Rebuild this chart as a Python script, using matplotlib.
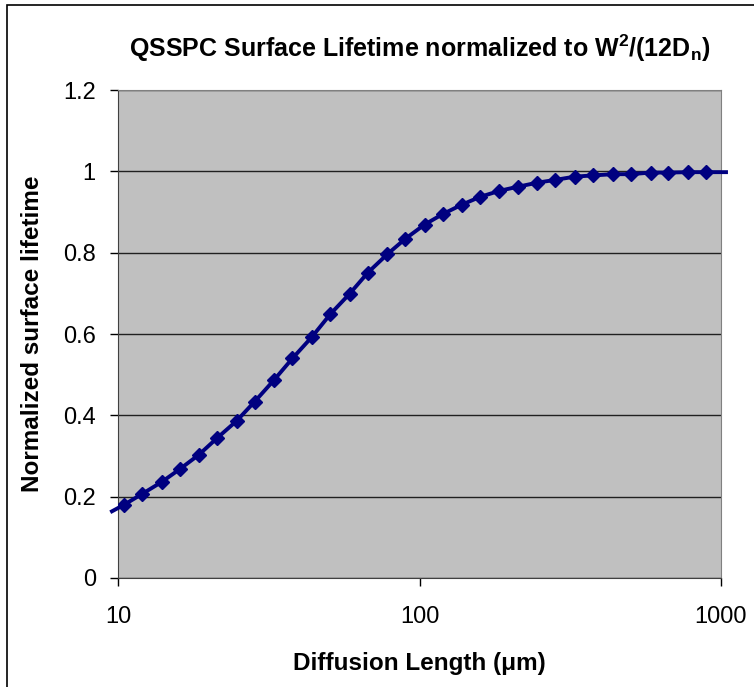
import numpy as np
import matplotlib
matplotlib.use("Agg")
import matplotlib.pyplot as plt
from matplotlib.patches import Rectangle

plt.rcParams["font.family"] = ["Liberation Sans", "DejaVu Sans"]
plt.rcParams["mathtext.fontset"] = "custom"
plt.rcParams["mathtext.rm"] = "Liberation Sans"
plt.rcParams["mathtext.bf"] = "Liberation Sans:bold"

# Diffusion length (um) and normalized surface lifetime
diff_length = [10.47, 12.04, 13.95, 16.05, 18.54, 21.38, 24.72, 28.42, 32.85, 37.89,
               44.00, 50.63, 58.65, 67.43, 78.17, 89.67, 103.9, 119.5, 138.2, 158.6,
               184.0, 211.6, 245.3, 282.1, 327.8, 376.9, 438.9, 502.3, 585.1, 669.2,
               779.3, 894.0]
norm_lifetime = [0.180, 0.207, 0.236, 0.268, 0.303, 0.345, 0.386, 0.434, 0.486, 0.540,
                 0.593, 0.649, 0.699, 0.751, 0.796, 0.834, 0.869, 0.895, 0.918, 0.937,
                 0.952, 0.962, 0.972, 0.979, 0.987, 0.990, 0.993, 0.993, 0.997, 0.997,
                 0.998, 0.998]
# line runs slightly past the plot edges
end_left = (9.55, 0.164)
end_right = (1039.0, 0.998)

y_ticks = [0, 0.2, 0.4, 0.6, 0.8, 1.0, 1.2]
y_tick_labels = ["0", "0.2", "0.4", "0.6", "0.8", "1", "1.2"]
x_ticks = [10, 100, 1000]
x_tick_labels = ["10", "100", "1000"]

fig = plt.figure(figsize=(7.54, 6.87), dpi=100)
fig.patch.set_facecolor("white")
# chart area frame (runs off the right and bottom of the picture)
fig.patches.append(Rectangle((7 / 754, -0.1), 1.2, 1.1 - 5 / 687,
                             transform=fig.transFigure, fill=False,
                             edgecolor="black", linewidth=1.2))

ax = fig.add_axes([118 / 754, 1 - 578 / 687, (721 - 118) / 754, (578 - 90) / 687])
ax.set_facecolor("#C0C0C0")

line_x = [end_left[0]] + diff_length + [end_right[0]]
line_y = [end_left[1]] + norm_lifetime + [end_right[1]]
ax.plot(line_x, line_y, color="#000080", linewidth=2.8, clip_on=False, zorder=3)
ax.plot(diff_length, norm_lifetime, linestyle="none", marker="D", markersize=7,
        color="#000080", zorder=4)

ax.set_xscale("log")
ax.set_xlim(10, 1000)
ax.set_ylim(0, 1.2)
ax.set_xticks(x_ticks)
ax.set_xticklabels(x_tick_labels)
ax.xaxis.set_minor_locator(matplotlib.ticker.NullLocator())
ax.set_yticks(y_ticks)
ax.set_yticklabels(y_tick_labels)

ax.grid(axis="y", color="#202020", linewidth=1.0)
ax.set_axisbelow(True)
ax.tick_params(axis="both", direction="out", length=6, width=1, labelsize=17, colors="black")
ax.tick_params(axis="x", pad=14)
ax.tick_params(axis="y", pad=10)

for side in ["top", "right"]:
    ax.spines[side].set_color("#808080")
for side in ["left", "bottom"]:
    ax.spines[side].set_color("#404040")

ax.set_title(r"QSSPC Surface Lifetime normalized to W$^\mathbf{2}$/(12D$_\mathbf{n}$)",
             fontsize=18, fontweight="bold", y=1.05)
ax.set_xlabel("Diffusion Length (μm)", fontsize=17.5, fontweight="bold")
ax.set_ylabel("Normalized surface lifetime", fontsize=17.5, fontweight="bold")
ax.xaxis.set_label_coords(0.5, -0.152)
ax.yaxis.set_label_coords(-0.123, 0.5)

fig.savefig("out.png", dpi=100)
